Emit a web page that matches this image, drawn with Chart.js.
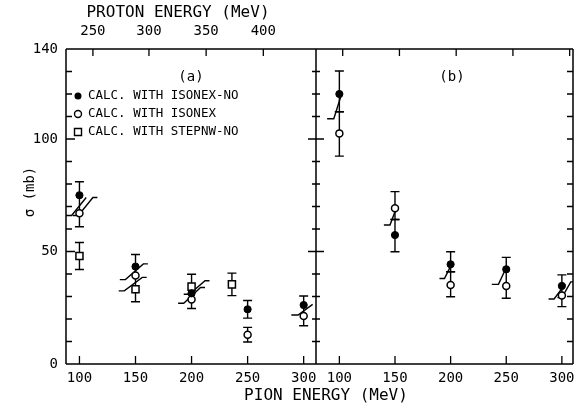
<!DOCTYPE html>
<html>
<head>
<meta charset="utf-8">
<script src="https://cdn.jsdelivr.net/npm/chart.js@4.4.0/dist/chart.umd.min.js"></script>
<style>
  body { margin: 0; background: #fff; }
  #wrap { position: relative; width: 581px; height: 405px; }
  canvas { position: absolute; top: 0; }
  #chartA { left: 0; }
  #chartB { left: 300px; }
</style>
</head>
<body>
<div id="wrap">
  <canvas id="chartA" width="581" height="405"></canvas>
  <canvas id="chartB" width="281" height="405"></canvas>
</div>
<script>
const FONT = '"DejaVu Sans Mono", monospace';

// axis ticks
const pionTicks = [100, 150, 200, 250, 300];
const sigmaTicks = [0, 50, 100, 140];
// proton energy scale on top of panel (a), placed at the matching pion energy
const protonLabels = ['250', '300', '350', '400'];
const protonAtPion = [112, 162, 213, 264];
const topTicksB = [103, 154, 205, 256, 307];

// panel (a)
const energyA = [100, 150, 200, 250, 300];
const isonexNoA = [75, 43.3, 31.4, 24.3, 26.2];
const isonexNoAUp = [6, 5.4, 0, 3.9, 4];
const isonexNoADn = [8, 4, 2.7, 3.9, 4.9];
const isonexA = [67, 39.3, 28.7, 13, 21.3];
const isonexAUp = [0, 0, 0, 3.3, 0];
const isonexADn = [6, 6.1, 4, 3.2, 4.3];
const energyStepA = [100, 150, 200, 236];
const stepnwNoA = [48, 33.2, 34.4, 35.4];
const stepnwNoAUp = [6, 0, 5.5, 5];
const stepnwNoADn = [6, 5.5, 3, 5];

// panel (b)
const energyB = [100, 150, 200, 250, 300];
const isonexNoB = [120, 57.3, 44.3, 42.1, 34.7];
const isonexNoBUp = [10.2, 6.9, 5.6, 5.3, 4.9];
const isonexNoBDn = [7.9, 7.4, 3.3, 0, 0];
const isonexB = [102.5, 69.2, 35.1, 34.7, 30.4];
const isonexBUp = [9.6, 7.4, 5.9, 7.4, 4.3];
const isonexBDn = [10.1, 5, 5.2, 5.5, 4.9];

// short slanted segments drawn next to the points, [energy, sigma] corners
const slashesA = [
  [[88, 66], [93, 66], [106, 74]],
  [[94, 66], [99, 66], [112, 74], [116, 74]],
  [[136, 37.5], [141, 37.5], [157, 44.5], [161, 44.5]],
  [[135, 32.5], [140, 32.5], [156, 38.5], [160, 38.5]],
  [[188, 27], [193, 27], [208, 34], [212, 34]],
  [[193, 31], [198, 31], [212, 37], [216, 37]],
  [[289, 21.8], [295, 21.8], [308, 26.5]]
];
const slashesB = [
  [[89, 109], [95, 109], [102, 120]],
  [[140, 61.8], [145.5, 61.8], [151, 69]],
  [[190, 38], [194.5, 38], [200, 43.5]],
  [[237, 35.4], [243, 35.4], [249, 41.8]],
  [[288, 28.9], [293, 28.9], [303, 35.5]],
  [[296, 29.5], [300, 29.5], [308, 36.5], [310, 36.5]]
];

const pts = (xs, ys) => xs.map((x, i) => ({ x: x, y: ys[i] }));

function filled(xs, ys, up, dn) {
  return { data: pts(xs, ys), pointStyle: 'circle', pointRadius: 3.6,
    backgroundColor: '#000', borderColor: '#000', borderWidth: 1, errUp: up, errDn: dn };
}
function open(xs, ys, up, dn) {
  return { data: pts(xs, ys), pointStyle: 'circle', pointRadius: 3.5,
    backgroundColor: '#fff', borderColor: '#000', borderWidth: 1.5, errUp: up, errDn: dn };
}
function square(xs, ys, up, dn) {
  return { data: pts(xs, ys), pointStyle: 'rect', pointRadius: 5,
    backgroundColor: '#fff', borderColor: '#000', borderWidth: 1.5, errUp: up, errDn: dn };
}
function slash(p) {
  return { data: p.map(([x, y]) => ({ x, y })), showLine: true, pointRadius: 0,
    borderColor: '#000', borderWidth: 1.4, fill: false };
}

// vertical error bars, caps left off where a bar runs into another marker
const errorBars = {
  id: 'errorBars',
  beforeDatasetsDraw(chart) {
    const { ctx, scales: { x, y } } = chart;
    const marks = [];
    chart.data.datasets.forEach(ds => { if (ds.errUp) marks.push(...ds.data); });
    const onMark = (ex, ev) => marks.some(m => m.x === ex && Math.abs(m.y - ev) < 0.05);
    ctx.save();
    ctx.strokeStyle = '#000';
    ctx.lineWidth = 1.4;
    chart.data.datasets.forEach(ds => {
      if (!ds.errUp) return;
      ds.data.forEach((p, i) => {
        const xp = x.getPixelForValue(p.x);
        [[ds.errUp[i], 1], [ds.errDn[i], -1]].forEach(([e, s]) => {
          if (!e) return;
          const end = p.y + s * e;
          const y1 = y.getPixelForValue(end);
          ctx.beginPath();
          ctx.moveTo(xp, y.getPixelForValue(p.y));
          ctx.lineTo(xp, y1);
          if (!onMark(p.x, end)) { ctx.moveTo(xp - 4.5, y1); ctx.lineTo(xp + 4.5, y1); }
          ctx.stroke();
        });
      });
    });
    ctx.restore();
  }
};

// frame and inward tick marks
function framePlugin(side) {
  return {
    id: 'frame',
    afterDraw(chart) {
      const { ctx, chartArea: a, scales: { x, y } } = chart;
      ctx.save();
      ctx.strokeStyle = '#000';
      ctx.lineWidth = 1.5;
      ctx.beginPath();
      ctx.moveTo(a.left, a.top); ctx.lineTo(a.right, a.top);
      ctx.moveTo(a.left, a.bottom); ctx.lineTo(a.right, a.bottom);
      // the shared divider is drawn once, by panel (b)
      ctx.moveTo(side === 'a' ? a.left : a.right, a.top);
      ctx.lineTo(side === 'a' ? a.left : a.right, a.bottom);
      if (side === 'b') { ctx.moveTo(a.left, a.top); ctx.lineTo(a.left, a.bottom); }
      ctx.stroke();
      ctx.lineWidth = 1.3;
      ctx.beginPath();
      for (let v = 10; v < 140; v += 10) {
        const yp = y.getPixelForValue(v);
        const major = v % 50 === 0;
        if (side === 'a') {
          ctx.moveTo(a.left, yp); ctx.lineTo(a.left + (major ? 9 : 6), yp);
        } else {
          const h = major ? 8 : 4;
          ctx.moveTo(a.left - h, yp); ctx.lineTo(a.left + h, yp);
          ctx.moveTo(a.right, yp); ctx.lineTo(a.right - 6, yp);
        }
      }
      pionTicks.forEach(v => {
        const xp = x.getPixelForValue(v);
        ctx.moveTo(xp, a.bottom); ctx.lineTo(xp, a.bottom - 8);
      });
      (side === 'a' ? protonAtPion : topTicksB).forEach(v => {
        const xp = x.getPixelForValue(v);
        ctx.moveTo(xp, a.top); ctx.lineTo(xp, a.top + 7);
      });
      ctx.stroke();
      ctx.restore();
    }
  };
}

const textA = {
  id: 'textA',
  afterDraw(chart) {
    const { ctx } = chart;
    ctx.save();
    ctx.fillStyle = '#000';
    ctx.strokeStyle = '#000';
    ctx.textBaseline = 'middle';
    ctx.textAlign = 'center';
    ctx.font = '16px ' + FONT;
    ctx.fillText('PROTON ENERGY (MeV)', 178, 13);
    ctx.fillText('PION ENERGY (MeV)', 326, 396);
    ctx.font = '14px ' + FONT;
    ctx.fillText('(a)', 191, 77);
    ctx.save();
    ctx.translate(30, 192);
    ctx.rotate(-Math.PI / 2);
    ctx.fillText('σ (mb)', 0, 0);
    ctx.restore();

    // legend
    const rows = [
      ['CALC. WITH ISONEX-NO', 'dot'],
      ['CALC. WITH ISONEX', 'ring'],
      ['CALC. WITH STEPNW-NO', 'box']
    ];
    ctx.textAlign = 'left';
    ctx.font = '12.5px ' + FONT;
    ctx.lineWidth = 1.4;
    rows.forEach(([label, kind], i) => {
      const yy = 96 + i * 18;
      ctx.beginPath();
      if (kind === 'box') {
        ctx.rect(74.5, yy - 3.5, 7, 7);
        ctx.stroke();
      } else {
        ctx.arc(78, yy, 3.5, 0, Math.PI * 2);
        kind === 'dot' ? ctx.fill() : ctx.stroke();
      }
      ctx.fillText(label, 88, yy);
    });
    ctx.restore();
  }
};

const textB = {
  id: 'textB',
  afterDraw(chart) {
    const { ctx } = chart;
    ctx.save();
    ctx.fillStyle = '#000';
    ctx.textAlign = 'center';
    ctx.textBaseline = 'middle';
    ctx.font = '14px ' + FONT;
    ctx.fillText('(b)', 152, 77);
    ctx.restore();
  }
};

const tickFont = { family: FONT, size: 14 };

function scalesFor(xmin, xmax, side) {
  return {
    x: {
      type: 'linear', position: 'bottom', min: xmin, max: xmax,
      afterBuildTicks: s => { s.ticks = pionTicks.map(v => ({ value: v })); },
      afterFit: s => { s.height = 41; },
      grid: { display: false, drawTicks: false },
      border: { display: false },
      ticks: { color: '#000', font: tickFont, padding: 6, autoSkip: false, maxRotation: 0 }
    },
    x2: {
      type: 'linear', position: 'top', min: xmin, max: xmax,
      afterBuildTicks: s => { s.ticks = protonAtPion.map(v => ({ value: v })); },
      afterFit: s => { s.height = 49; },
      grid: { display: false, drawTicks: false },
      border: { display: false },
      ticks: {
        display: side === 'a', color: '#000', font: tickFont, padding: 9,
        autoSkip: false, maxRotation: 0,
        callback: (v, i) => protonLabels[i]
      }
    },
    y: {
      display: side === 'a', min: 0, max: 140,
      afterBuildTicks: s => { s.ticks = sigmaTicks.map(v => ({ value: v })); },
      afterFit: s => { s.width = side === 'a' ? 66 : 0; },
      grid: { display: false, drawTicks: false },
      border: { display: false },
      ticks: { color: '#000', font: tickFont, padding: 8 }
    }
  };
}

new Chart(document.getElementById('chartA'), {
  type: 'scatter',
  data: {
    datasets: [
      filled(energyA, isonexNoA, isonexNoAUp, isonexNoADn),
      open(energyA, isonexA, isonexAUp, isonexADn),
      square(energyStepA, stepnwNoA, stepnwNoAUp, stepnwNoADn),
      ...slashesA.map(slash)
    ]
  },
  options: {
    responsive: false,
    animation: false,
    layout: { padding: { left: 0, right: 265, top: 0, bottom: 0 } },
    plugins: { legend: { display: false }, tooltip: { enabled: false } },
    scales: scalesFor(88, 311, 'a')
  },
  plugins: [errorBars, framePlugin('a'), textA]
});

new Chart(document.getElementById('chartB'), {
  type: 'scatter',
  data: {
    datasets: [
      filled(energyB, isonexNoB, isonexNoBUp, isonexNoBDn),
      open(energyB, isonexB, isonexBUp, isonexBDn),
      ...slashesB.map(slash)
    ]
  },
  options: {
    responsive: false,
    animation: false,
    layout: { padding: { left: 16, right: 8, top: 0, bottom: 0 } },
    plugins: { legend: { display: false }, tooltip: { enabled: false } },
    scales: scalesFor(79, 310, 'b')
  },
  plugins: [errorBars, framePlugin('b'), textB]
});
</script>
</body>
</html>
